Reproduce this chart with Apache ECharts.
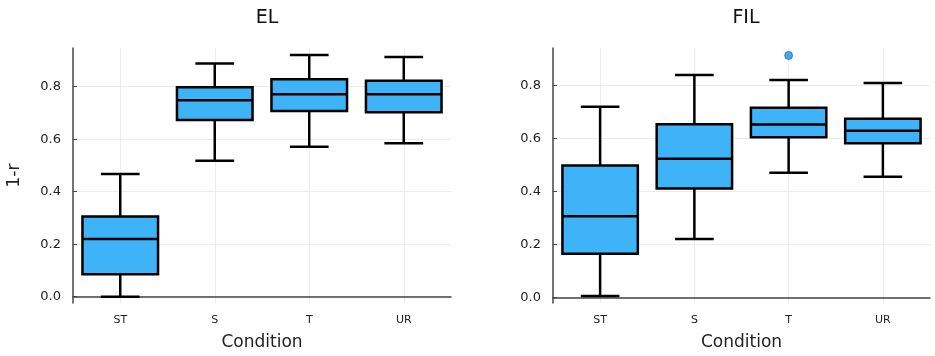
<!DOCTYPE html>
<html>
<head>
<meta charset="utf-8">
<script src="https://cdn.jsdelivr.net/npm/echarts@6/dist/echarts.min.js"></script>
<style>
  html, body { margin: 0; padding: 0; background: #fff; }
  #chart { width: 935px; height: 356px; }
</style>
</head>
<body>
<div id="chart"></div>
<script>
// categories and box stats
const conditions = ['ST', 'S', 'T', 'UR'];
const yTicks = [0, 0.2, 0.4, 0.6, 0.8];

// EL panel
const elLow    = [0.000, 0.518, 0.571, 0.584];
const elQ1     = [0.085, 0.673, 0.707, 0.702];
const elMedian = [0.220, 0.748, 0.771, 0.771];
const elQ3     = [0.305, 0.798, 0.828, 0.822];
const elHigh   = [0.467, 0.888, 0.920, 0.913];

// FIL panel
const filLow    = [0.005, 0.220, 0.470, 0.455];
const filQ1     = [0.165, 0.411, 0.604, 0.582];
const filMedian = [0.306, 0.523, 0.652, 0.629];
const filQ3     = [0.498, 0.653, 0.716, 0.674];
const filHigh   = [0.719, 0.839, 0.820, 0.809];
const filOutliers = [[2, 0.913]];

const boxFill = '#3fb3f8';
const font = 'DejaVu Sans';

// build [idx, low, q1, med, q3, high] rows
function rows(lo, q1, md, q3, hi) {
  return conditions.map(function (c, i) {
    return [i, lo[i], q1[i], md[i], q3[i], hi[i]];
  });
}

function renderBox(params, api) {
  var x = api.value(0);
  var lo = api.coord([x, api.value(1)]);
  var q1 = api.coord([x, api.value(2)]);
  var md = api.coord([x, api.value(3)]);
  var q3 = api.coord([x, api.value(4)]);
  var hi = api.coord([x, api.value(5)]);
  var band = api.size([1, 0])[0];
  var bw = band * 0.8, cw = band * 0.41;
  var cx = lo[0];
  var line = { stroke: '#000', lineWidth: 2.5 };
  return {
    type: 'group',
    children: [
      { type: 'line', shape: { x1: cx, y1: lo[1], x2: cx, y2: q1[1] }, style: line },
      { type: 'line', shape: { x1: cx, y1: q3[1], x2: cx, y2: hi[1] }, style: line },
      { type: 'line', shape: { x1: cx - cw / 2, y1: lo[1], x2: cx + cw / 2, y2: lo[1] }, style: line },
      { type: 'line', shape: { x1: cx - cw / 2, y1: hi[1], x2: cx + cw / 2, y2: hi[1] }, style: line },
      { type: 'rect', shape: { x: cx - bw / 2, y: q3[1], width: bw, height: q1[1] - q3[1] },
        style: { fill: boxFill, stroke: '#000', lineWidth: 2.5 } },
      { type: 'line', shape: { x1: cx - bw / 2, y1: md[1], x2: cx + bw / 2, y2: md[1] }, style: line }
    ]
  };
}

function xAxisFor(i) {
  return {
    type: 'category', gridIndex: i, data: conditions,
    name: 'Condition', nameLocation: 'middle', nameGap: 31,
    nameTextStyle: { fontFamily: font, fontSize: 17, color: '#222' },
    axisLine: { lineStyle: { color: '#444', width: 1.5 } },
    axisTick: { inside: true, length: 4, alignWithLabel: true, lineStyle: { color: '#444' } },
    axisLabel: { fontFamily: font, fontSize: 11, color: '#222', margin: 12 },
    splitLine: { show: true, alignWithLabel: true, lineStyle: { color: '#ececec', width: 1 } }
  };
}

function yAxisFor(i, min, max) {
  return {
    type: 'value', gridIndex: i, min: min, max: max,
    name: i === 0 ? '1-r' : '', nameLocation: 'middle', nameGap: 50, nameRotate: 90,
    nameTextStyle: { fontFamily: font, fontSize: 17, color: '#222' },
    axisLine: { show: true, lineStyle: { color: '#444', width: 1.5 } },
    axisTick: { show: true, inside: true, length: 4, customValues: yTicks, lineStyle: { color: '#444' } },
    axisLabel: { fontFamily: font, fontSize: 13, color: '#222', margin: 12, customValues: yTicks,
      formatter: function (v) { return v.toFixed(1); } },
    splitLine: { show: true, lineStyle: { color: '#ececec', width: 1 } }
  };
}

const chart = echarts.init(document.getElementById('chart'), null, { renderer: 'canvas' });
chart.setOption({
  animation: false,
  backgroundColor: '#fff',
  title: [
    { text: 'EL', left: 262, top: 4, textAlign: 'center',
      textStyle: { fontFamily: font, fontSize: 19, fontWeight: 'normal', color: '#111' } },
    { text: 'FIL', left: 741, top: 4, textAlign: 'center',
      textStyle: { fontFamily: font, fontSize: 19, fontWeight: 'normal', color: '#111' } }
  ],
  grid: [
    { left: 73, right: 484, top: 48, bottom: 53 },
    { left: 553, right: 5, top: 48, bottom: 53 }
  ],
  xAxis: [xAxisFor(0), xAxisFor(1)],
  yAxis: [yAxisFor(0, -0.024, 0.947), yAxisFor(1, -0.021, 0.941)],
  series: [
    { type: 'custom', xAxisIndex: 0, yAxisIndex: 0, renderItem: renderBox,
      encode: { x: 0, y: [1, 2, 3, 4, 5] },
      data: rows(elLow, elQ1, elMedian, elQ3, elHigh) },
    { type: 'custom', xAxisIndex: 1, yAxisIndex: 1, renderItem: renderBox,
      encode: { x: 0, y: [1, 2, 3, 4, 5] },
      data: rows(filLow, filQ1, filMedian, filQ3, filHigh) },
    { type: 'scatter', xAxisIndex: 1, yAxisIndex: 1, symbolSize: 8,
      itemStyle: { color: '#0f96f0', borderColor: '#1a3550', borderWidth: 0.6 },
      data: filOutliers }
  ]
});
</script>
</body>
</html>
